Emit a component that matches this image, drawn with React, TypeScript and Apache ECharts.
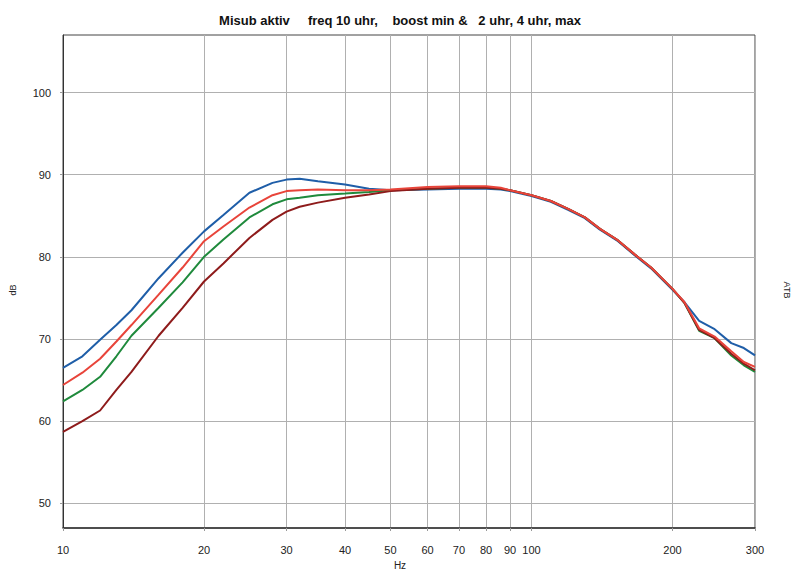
import React, { useEffect, useRef } from "react";
import * as echarts from "echarts";

const TITLE = "Misub aktiv     freq 10 uhr,    boost min &   2 uhr, 4 uhr, max";
const X_TICKS = [10, 20, 30, 40, 50, 60, 70, 80, 90, 100, 200, 300];
const Y_TICKS = [50, 60, 70, 80, 90, 100];

const FREQ = [10, 11, 12, 13, 14, 16, 18, 20, 22, 25, 28, 30, 32, 35, 40, 45, 50, 60, 70, 80, 86, 90, 100, 110, 120, 130, 140, 153, 166, 180, 200, 212, 228, 246, 267, 284, 300];

const BLUE = [66.5, 67.9, 69.9, 71.7, 73.5, 77.4, 80.5, 83.1, 85.1, 87.8, 89.0, 89.4, 89.5, 89.2, 88.8, 88.3, 88.1, 88.2, 88.3, 88.3, 88.2, 88.0, 87.4, 86.7, 85.7, 84.7, 83.3, 81.9, 80.2, 78.6, 76.0, 74.5, 72.2, 71.2, 69.5, 68.9, 68.0];
const RED = [64.4, 65.9, 67.6, 69.7, 71.7, 75.4, 78.7, 81.9, 83.7, 86.0, 87.5, 88.0, 88.1, 88.2, 88.1, 88.1, 88.2, 88.5, 88.6, 88.6, 88.4, 88.1, 87.5, 86.8, 85.8, 84.8, 83.4, 82.0, 80.3, 78.7, 76.1, 74.5, 71.3, 70.3, 68.5, 67.2, 66.6];
const GREEN = [62.4, 63.8, 65.4, 67.9, 70.4, 73.8, 76.9, 80.0, 82.1, 84.8, 86.4, 87.0, 87.2, 87.5, 87.7, 87.9, 88.1, 88.3, 88.4, 88.4, 88.3, 88.1, 87.5, 86.8, 85.8, 84.8, 83.4, 82.0, 80.3, 78.7, 76.1, 74.4, 71.0, 70.1, 68.0, 66.8, 66.0];
const DARKRED = [58.7, 60.0, 61.3, 63.8, 66.0, 70.4, 73.8, 77.0, 79.2, 82.3, 84.5, 85.5, 86.1, 86.6, 87.2, 87.6, 88.0, 88.3, 88.4, 88.4, 88.3, 88.1, 87.5, 86.8, 85.8, 84.8, 83.4, 82.0, 80.3, 78.7, 76.1, 74.4, 71.1, 70.1, 68.2, 67.0, 66.2];

const SERIES = [
  { name: "max", data: BLUE, color: "#1f5ea8" },
  { name: "4 uhr", data: GREEN, color: "#1f8a3c" },
  { name: "min", data: DARKRED, color: "#8e1b1b" },
  { name: "2 uhr", data: RED, color: "#e8443a" },
];

export default function App() {
  const ref = useRef<HTMLDivElement>(null);
  useEffect(() => {
    const chart = echarts.init(ref.current!, null, { renderer: "svg" });
    const font = "Arial, 'Liberation Sans', sans-serif";
    chart.setOption({
      animation: false,
      backgroundColor: "#ffffff",
      textStyle: { fontFamily: font },
      title: {
        text: TITLE,
        left: "center",
        top: 9,
        textStyle: { fontSize: 13, fontWeight: "bold", color: "#111", fontFamily: font },
      },
      grid: {
        left: 63,
        right: 45,
        top: 35,
        bottom: 53,
        show: true,
        borderColor: "#444",
        borderWidth: 1,
      },
      xAxis: {
        type: "log",
        logBase: 10,
        min: 10,
        max: 300,
        axisLine: { show: true, lineStyle: { color: "#333", width: 1.5 } },
        axisTick: { show: true, length: 3, customValues: X_TICKS, lineStyle: { color: "#999" } },
        axisLabel: {
          customValues: X_TICKS,
          margin: 16,
          fontSize: 11,
          color: "#222",
          formatter: (v: number) => String(Math.round(v)),
        },
        splitLine: { show: true, lineStyle: { color: "#b0b0b0", width: 1 } },
        minorSplitLine: { show: false },
      },
      yAxis: {
        type: "value",
        min: 47,
        max: 107,
        axisLine: { show: true, lineStyle: { color: "#333", width: 1 } },
        axisTick: { show: true, length: 3, customValues: Y_TICKS, lineStyle: { color: "#999" } },
        axisLabel: { customValues: Y_TICKS, margin: 12, fontSize: 11, color: "#222" },
        splitLine: { show: true, lineStyle: { color: "#b0b0b0", width: 1 } },
      },
      graphic: [
        {
          type: "text",
          x: 400,
          y: 565,
          style: { text: "Hz", fontSize: 10, fill: "#222", align: "center", verticalAlign: "middle", fontFamily: font },
        },
        {
          type: "text",
          x: 13,
          y: 290,
          rotation: Math.PI / 2,
          style: { text: "dB", fontSize: 9, fill: "#222", align: "center", verticalAlign: "middle", fontFamily: font },
        },
        {
          type: "text",
          x: 787,
          y: 290,
          rotation: -Math.PI / 2,
          style: { text: "ATB", fontSize: 9, fill: "#222", align: "center", verticalAlign: "middle", fontFamily: font },
        },
      ],
      series: SERIES.map((s) => ({
        type: "line",
        name: s.name,
        data: FREQ.map((f, i) => [f, s.data[i]]),
        showSymbol: false,
        symbol: "none",
        lineStyle: { color: s.color, width: 2 },
        itemStyle: { color: s.color },
      })),
    });
    return () => chart.dispose();
  }, []);
  return <div ref={ref} style={{ position: "fixed", left: 0, top: 0, width: 800, height: 581 }} />;
}
